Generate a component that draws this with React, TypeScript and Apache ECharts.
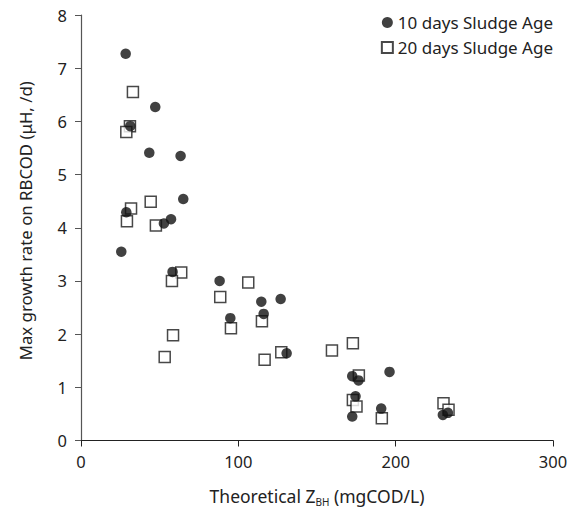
import React, { useEffect, useRef } from "react";
import * as echarts from "echarts";

const xTicks = [0, 100, 200, 300];
const yTicks = [0, 1, 2, 3, 4, 5, 6, 7, 8];

const tenDaysX = [28.4, 47.2, 31.3, 43.4, 63.3, 65.0, 28.8, 57.2, 52.7, 25.6, 58.2, 88.1, 94.9, 114.6, 126.9, 116.1, 130.7, 172.4, 176.4, 196.1, 174.5, 172.4, 190.8, 230.0, 233.2];
const tenDaysY = [7.27, 6.27, 5.91, 5.41, 5.35, 4.54, 4.29, 4.16, 4.08, 3.55, 3.17, 3.0, 2.3, 2.61, 2.66, 2.38, 1.64, 1.21, 1.13, 1.29, 0.83, 0.45, 0.6, 0.48, 0.52];

const twentyDaysX = [33.0, 31.1, 28.8, 44.3, 31.8, 29.2, 47.6, 63.7, 57.8, 88.5, 106.3, 58.5, 53.2, 95.3, 115.0, 116.7, 127.3, 159.5, 172.8, 176.6, 172.8, 175.1, 191.2, 230.4, 233.6];
const twentyDaysY = [6.55, 5.91, 5.8, 4.49, 4.36, 4.12, 4.04, 3.16, 3.0, 2.7, 2.97, 1.98, 1.57, 2.11, 2.24, 1.52, 1.66, 1.69, 1.83, 1.22, 0.76, 0.64, 0.42, 0.7, 0.58];

const seriesNames = ["10 days Sludge Age", "20 days Sludge Age"];

const FONT = "Noto Sans";

export default function App() {
  const ref = useRef<HTMLDivElement>(null);
  useEffect(() => {
    if (!ref.current) return;
    const chart = echarts.init(ref.current, undefined, { renderer: "svg" });
    const zip = (xs: number[], ys: number[]) => xs.map((x, i) => [x, ys[i]]);
    chart.setOption({
      animation: false,
      backgroundColor: "#ffffff",
      textStyle: { fontFamily: FONT },
      grid: { left: 81, right: 22, top: 15, bottom: 74.5, containLabel: false },
      legend: {
        orient: "vertical",
        right: 17,
        top: 9,
        itemWidth: 11,
        itemHeight: 11,
        itemGap: 8,
        textStyle: { fontFamily: FONT, fontSize: 17, color: "#222" },
        data: seriesNames,
      },
      xAxis: {
        type: "value",
        min: xTicks[0],
        max: xTicks[xTicks.length - 1],
        interval: 100,
        name: "Theoretical Z{sub|BH} (mgCOD/L)",
        nameLocation: "middle",
        nameGap: 44,
        nameTextStyle: {
          fontFamily: FONT,
          fontSize: 17.5,
          color: "#222",
          lineHeight: 22,
          rich: {
            sub: { fontSize: 10, lineHeight: 11, verticalAlign: "bottom", fontFamily: FONT, color: "#222" },
          },
        },
        axisLine: { lineStyle: { color: "#222", width: 1.2 } },
        axisTick: { show: true, inside: false, length: 6, lineStyle: { color: "#222" } },
        axisLabel: { fontFamily: FONT, fontSize: 16.5, color: "#222", margin: 12 },
        splitLine: { show: false },
      },
      yAxis: {
        type: "value",
        min: yTicks[0],
        max: yTicks[yTicks.length - 1],
        interval: 1,
        name: "Max growth rate on RBCOD (μH, /d)",
        nameLocation: "middle",
        nameGap: 47,
        nameTextStyle: { fontFamily: FONT, fontSize: 16.8, color: "#222", padding: [0, 0, 0, 14] },
        axisLine: { show: true, lineStyle: { color: "#555", width: 1.2 } },
        axisTick: { show: true, inside: false, length: 6, lineStyle: { color: "#555" } },
        axisLabel: { fontFamily: FONT, fontSize: 16.5, color: "#222", margin: 14 },
        splitLine: { show: false },
      },
      series: [
        {
          name: seriesNames[0],
          type: "scatter",
          symbol: "circle",
          symbolSize: 10.5,
          itemStyle: { color: "#111111" },
          data: zip(tenDaysX, tenDaysY),
          z: 3,
        },
        {
          name: seriesNames[1],
          type: "scatter",
          symbol: "rect",
          symbolSize: 11,
          itemStyle: { color: "#ffffff", borderColor: "#1a1a1a", borderWidth: 1.5 },
          data: zip(twentyDaysX, twentyDaysY),
          z: 2,
        },
      ],
    });
    return () => chart.dispose();
  }, []);
  return <div ref={ref} style={{ width: 575, height: 515, margin: -8 }} />;
}
